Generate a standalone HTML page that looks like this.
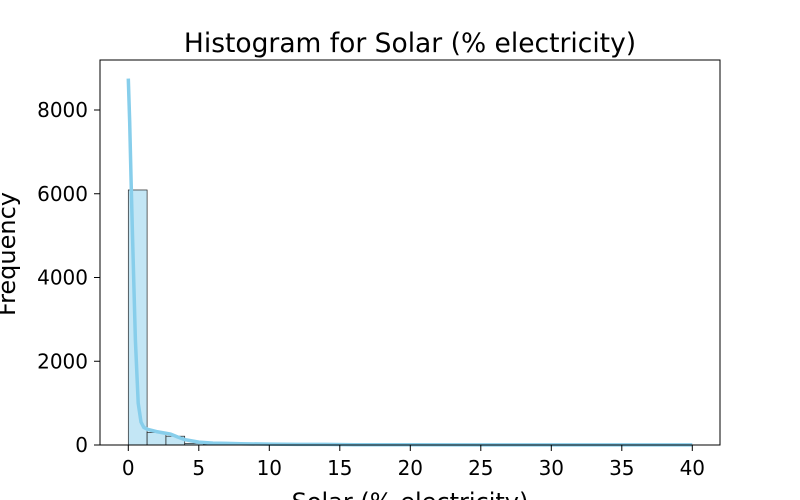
<!DOCTYPE html>
<html><head><meta charset="utf-8"><style>body{margin:0;background:#fff}svg{display:block}text{font-family:"DejaVu Sans","Liberation Sans",sans-serif}</style></head>
<body>
<svg id="chart" width="800" height="500" viewBox="0 0 800 500"></svg>
<script>
const binCounts=[6090,300,210,40,15,8,6,5,4,3,3,2,2,2,2,2,1,1,1,1,1,1,1,1,1,1,1,1,1,1];
const binStart=0, binEnd=40;
const kdeX=[0,0.1,0.2,0.3,0.5,0.7,0.9,1.1,1.4,2,2.5,3,3.5,4,5,6,7,8,10,12,14,16,20,25,30,35,40];
const kdeY=[8750,7700,6300,5000,2500,1000,550,420,370,320,290,260,190,130,70,45,38,28,22,14,15,8,5,3,2,3,2];
const xTicks=[0,5,10,15,20,25,30,35,40];
const yTicks=[0,2000,4000,6000,8000];
const L=100,R=720,T=60,B=445;
const X=v=>128.3+v*14.1, Y=v=>445-v*0.041875;
const svg=document.getElementById('chart');const NS='http://www.w3.org/2000/svg';
function mk(t,a,p){const e=document.createElementNS(NS,t);for(const k in a)e.setAttribute(k,a[k]);(p||svg).appendChild(e);return e;}
const bw=(binEnd-binStart)/binCounts.length;
binCounts.forEach((c,i)=>{const x0=X(binStart+i*bw),x1=X(binStart+(i+1)*bw);
const r=mk('rect',{x:x0,y:Y(c),width:x1-x0,height:B-Y(c),fill:'rgba(135,206,235,0.5)',stroke:'#222','stroke-width':0.7});

});
const d=kdeX.map((v,i)=>(i?'L':'M')+X(v).toFixed(1)+','+Y(kdeY[i]).toFixed(1)).join(' ');
const ln=mk('path',{d:d,fill:'none',stroke:'#87ceeb','stroke-width':3.5,'stroke-linejoin':'round'});


const fr=mk('rect',{x:L,y:T,width:R-L,height:B-T,fill:'none',stroke:'#000','stroke-width':1});


xTicks.forEach(v=>{mk('line',{x1:X(v),x2:X(v),y1:B,y2:B+6,stroke:'#000','stroke-width':1});
const t=mk('text',{x:X(v),y:B+30,'text-anchor':'middle','font-size':20});t.textContent=v;

});
yTicks.forEach(v=>{mk('line',{x1:L-6,x2:L,y1:Y(v),y2:Y(v),stroke:'#000','stroke-width':1});
const t=mk('text',{x:L-12,y:Y(v)+7,'text-anchor':'end','font-size':20});t.textContent=v;

});
const ti=mk('text',{x:410,y:52,'text-anchor':'middle','font-size':26.5});ti.textContent='Histogram for Solar (% electricity)';


const xl=mk('text',{x:410,y:510,'text-anchor':'middle','font-size':24});xl.textContent='Solar (% electricity)';


const yl=mk('text',{x:0,y:0,'text-anchor':'middle','font-size':24,transform:'translate(15,254) rotate(-90)'});yl.textContent='Frequency';


</script>
</body></html>
